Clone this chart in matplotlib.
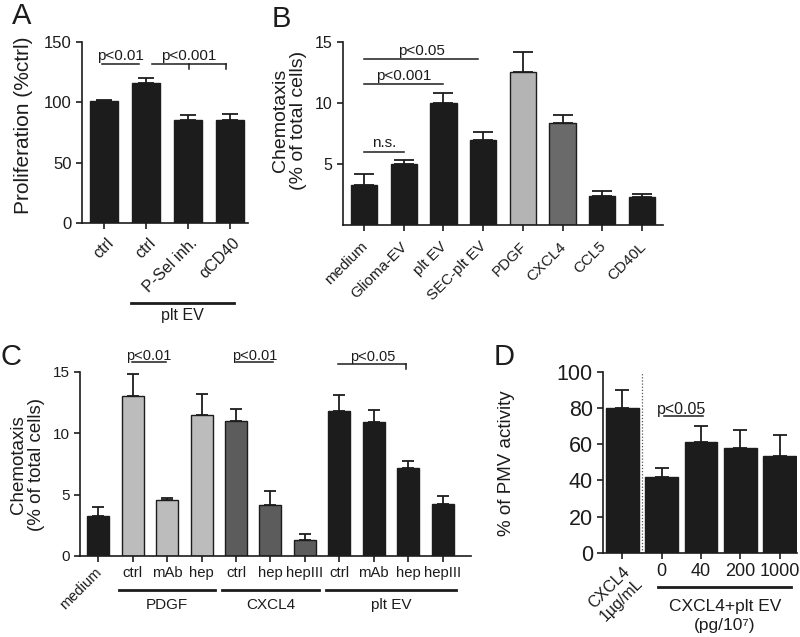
import matplotlib
matplotlib.use('Agg')
import matplotlib.pyplot as plt
import matplotlib.transforms as mtransforms
import numpy as np

plt.rcParams['font.family'] = ['Liberation Sans', 'DejaVu Sans']
INK = '#1c1c1c'
plt.rcParams['text.color'] = INK
plt.rcParams['axes.edgecolor'] = INK
plt.rcParams['xtick.color'] = INK
plt.rcParams['ytick.color'] = INK
plt.rcParams['axes.labelcolor'] = INK

# ---------------- data ----------------
a_labels = ['ctrl', 'ctrl', 'P-Sel inh.', 'αCD40']
a_values = [101, 116, 85, 85]
a_errors = [1, 4, 4.5, 5]
a_group = 'plt EV'

b_labels = ['medium', 'Glioma-EV', 'plt EV', 'SEC-plt EV', 'PDGF', 'CXCL4', 'CCL5', 'CD40L']
b_values = [3.3, 5.0, 10.0, 7.0, 12.5, 8.4, 2.4, 2.3]
b_errors = [0.9, 0.35, 0.8, 0.6, 1.7, 0.65, 0.4, 0.2]
b_kind = ['ev', 'ev', 'ev', 'ev', 'PDGF', 'CXCL4', 'ev', 'ev']

c_labels = ['medium', 'ctrl', 'mAb', 'hep', 'ctrl', 'hep', 'hepIII', 'ctrl', 'mAb', 'hep', 'hepIII']
c_values = [3.25, 13.0, 4.55, 11.5, 11.0, 4.15, 1.3, 11.8, 10.9, 7.2, 4.2]
c_errors = [0.75, 1.8, 0.2, 1.65, 1.0, 1.1, 0.5, 1.3, 1.0, 0.55, 0.65]
c_stimulus = ['medium', 'PDGF', 'PDGF', 'PDGF', 'CXCL4', 'CXCL4', 'CXCL4',
              'plt EV', 'plt EV', 'plt EV', 'plt EV']

d_labels = ['CXCL4\n1µg/mL', '0', '40', '200', '1000']
d_values = [80, 42, 61.5, 57.8, 53.7]
d_errors = [10, 4.7, 8.7, 10.2, 11.5]

# ---------------- style ----------------
b_colors = {'ev': INK, 'PDGF': '#b4b4b4', 'CXCL4': '#6a6a6a'}
c_colors = {'medium': INK, 'PDGF': '#bcbcbc', 'CXCL4': '#5c5c5c', 'plt EV': INK}

fig = plt.figure(figsize=(8, 6.37), dpi=100)


def style(ax, tick_fs):
    for s in ['top', 'right']:
        ax.spines[s].set_visible(False)
    for s in ['left', 'bottom']:
        ax.spines[s].set_linewidth(1.2)
    ax.tick_params(direction='out', length=4.5, width=1.2, labelsize=tick_fs, pad=3)


def draw_bars(ax, values, errors, colors, width, capsize):
    x = np.arange(len(values))
    ax.bar(x, values, width, color=colors, edgecolor=INK, linewidth=1.0, zorder=2)
    ax.errorbar(x, values, yerr=[np.zeros(len(values)), errors], fmt='none',
                ecolor=INK, elinewidth=1.3, capsize=capsize, capthick=1.3, zorder=3)
    ax.set_xticks(x)
    return x


def shift_labels(labels, dx_px, dy_px):
    off = mtransforms.ScaledTranslation(dx_px / 100, dy_px / 100, fig.dpi_scale_trans)
    for lab in labels:
        lab.set_transform(lab.get_transform() + off)


def sig(ax, x0, x1, y, text, fs, ticks=(), tick_len=0, dx=0, dy=1.0):
    ax.plot([x0, x1], [y, y], color=INK, lw=1.1, clip_on=False, zorder=4)
    for t in ticks:
        ax.plot([t, t], [y, y - tick_len], color=INK, lw=1.1, clip_on=False, zorder=4)
    ax.annotate(text, xy=((x0 + x1) / 2 + dx, y), xytext=(0, dy), textcoords='offset points',
                ha='center', va='bottom', fontsize=fs, annotation_clip=False)


def group_line(ax, x0, x1, y, text, ty, fs):
    tr = ax.get_xaxis_transform()
    ax.plot([x0, x1], [y, y], color=INK, lw=2.0, transform=tr, clip_on=False)
    ax.text((x0 + x1) / 2, ty, text, transform=tr, ha='center', va='center', fontsize=fs)


# ---------------- Panel A ----------------
axA = fig.add_axes([0.1025, 0.650, 0.2075, 0.284])
style(axA, 12)
xa = draw_bars(axA, a_values, a_errors, INK, 0.68, 5.5)
axA.set_xlim(-0.52, 3.43)
axA.set_ylim(0, 150)
axA.set_yticks([0, 50, 100, 150])
axA.set_xticklabels(a_labels, rotation=45, ha='right', va='top', rotation_mode='anchor', fontsize=11.5)
shift_labels(axA.get_xticklabels(), 2, -2)
axA.set_ylabel('Proliferation (%ctrl)', fontsize=15)
axA.yaxis.set_label_coords(-0.295, 0.54)
sig(axA, -0.05, 0.84, 131.5, 'p<0.01', 11)
sig(axA, 1.15, 2.9, 131.5, 'p<0.001', 11, ticks=(2.02, 2.9), tick_len=4)
group_line(axA, 0.65, 3.1, -0.442, a_group, -0.51, 11.5)

# ---------------- Panel B ----------------
axB = fig.add_axes([0.4288, 0.6468, 0.40, 0.2873])
style(axB, 11.5)
xb = draw_bars(axB, b_values, b_errors, [b_colors[k] for k in b_kind], 0.66, 7)
axB.set_xlim(-0.53, 7.53)
axB.set_ylim(0, 15)
axB.set_yticks([5, 10, 15])
axB.set_xticklabels(b_labels, rotation=45, ha='right', va='top', rotation_mode='anchor', fontsize=10.9)
shift_labels(axB.get_xticklabels(), -3.5, -4)
axB.set_ylabel('Chemotaxis\n(% of total cells)', fontsize=14, linespacing=1.1)
axB.yaxis.set_label_coords(-0.1125, 0.574)
sig(axB, 0, 1, 6.0, 'n.s.', 11)
sig(axB, 0, 2, 11.55, 'p<0.001', 11)
sig(axB, 0, 2.88, 13.6, 'p<0.05', 11)

# ---------------- Panel C ----------------
axC = fig.add_axes([0.100, 0.1272, 0.489, 0.2893])
style(axC, 11)
xc = draw_bars(axC, c_values, c_errors, [c_colors[k] for k in c_stimulus], 0.64, 4.5)
axC.set_xlim(-0.53, 10.83)
axC.set_ylim(0, 15)
axC.set_yticks([0, 5, 10, 15])
axC.set_xticklabels(c_labels, fontsize=10.7)
rotated = []
for lab, stim in zip(axC.get_xticklabels(), c_stimulus):
    if stim == 'medium':
        lab.set_rotation(45)
        lab.set_ha('right')
        lab.set_rotation_mode('anchor')
        lab.set_fontsize(10.5)
        rotated.append(lab)
shift_labels(rotated, -3.5, 1)
axC.set_ylabel('Chemotaxis\n(% of total cells)', fontsize=13.5, linespacing=1.1)
axC.yaxis.set_label_coords(-0.0895, 0.494)
sig(axC, 0.97, 1.96, 15.8, 'p<0.01', 10.5, dy=-0.5)
sig(axC, 4.0, 5.08, 15.8, 'p<0.01', 10.5, dy=-0.5)
sig(axC, 6.97, 8.95, 15.6, 'p<0.05', 10.5, ticks=(8.95,), tick_len=0.4, dy=0.5)
for g in ['PDGF', 'CXCL4', 'plt EV']:
    idx = [i for i, s in enumerate(c_stimulus) if s == g]
    group_line(axC, idx[0] - 0.4, idx[-1] + 0.4, -0.1845, g, -0.266, 11)

# ---------------- Panel D ----------------
axD = fig.add_axes([0.754, 0.1323, 0.2425, 0.2837])
style(axD, 15.5)
xd = draw_bars(axD, d_values, d_errors, INK, 0.83, 5)
axD.set_xlim(-0.49, 4.45)
axD.set_ylim(0, 100)
axD.set_yticks([0, 20, 40, 60, 80, 100])
axD.set_xticklabels(d_labels, fontsize=13)
first = axD.get_xticklabels()[0]
first.set_rotation(45)
first.set_ha('right')
first.set_rotation_mode('anchor')
first.set_fontsize(11.5)
first.set_multialignment('center')
axD.axvline(0.5, ymin=0, ymax=1, color='#555555', lw=0.9, ls=(0, (1, 1.5)))
axD.set_ylabel('% of PMV activity', fontsize=13.5)
axD.yaxis.set_label_coords(-0.4536, 0.497)
sig(axD, 1.06, 2.06, 75.6, 'p<0.05', 11.5, dx=-0.05, dy=-0.5)
group_line(axD, 0.91, 4.3, -0.188, 'CXCL4+plt EV', -0.295, 12.5)
axD.text(2.6, -0.405, '(pg/10⁷)', transform=axD.get_xaxis_transform(),
         ha='center', va='center', fontsize=12.5)

# ---------------- panel letters ----------------
for letter, (px, py) in zip('ABCD', [(12, 2), (272, 5), (1, 343), (494, 343)]):
    fig.text(px / 800, 1 - py / 637, letter, fontsize=21, ha='left', va='top')

fig.savefig('out.png', dpi=100)
